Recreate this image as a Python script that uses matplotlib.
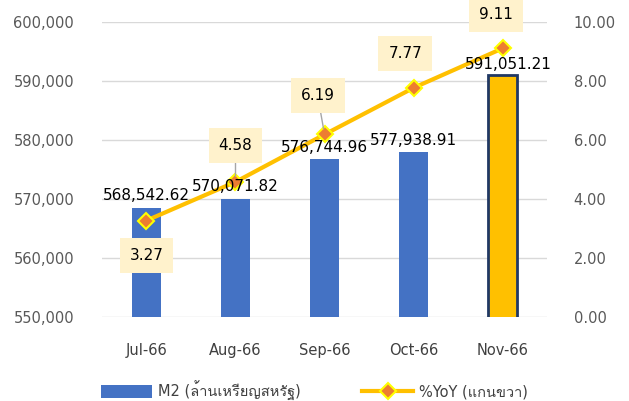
import matplotlib
matplotlib.use("Agg")
import matplotlib.pyplot as plt
from matplotlib import font_manager as fm
from matplotlib.patches import Patch
from matplotlib.lines import Line2D
from matplotlib.ticker import FuncFormatter

# ---- data ----
months = ["Jul-66", "Aug-66", "Sep-66", "Oct-66", "Nov-66"]
m2_values = [568542.62, 570071.82, 576744.96, 577938.91, 591051.21]
yoy_values = [3.27, 4.58, 6.19, 7.77, 9.11]
legend_labels = ["M2 (ล้านเหรียญสหรัฐ)", "%YoY (แกนขวา)"]

# ---- find a font with Thai glyphs ----
thai_font = None
seen = set()
for f in fm.fontManager.ttflist:
    if f.fname in seen:
        continue
    seen.add(f.fname)
    try:
        cmap = fm.get_font(f.fname).get_charmap()
        if 0x0E25 in cmap and 0x0E32 in cmap:
            thai_font = f.name
            break
    except Exception:
        pass

families = ["DejaVu Sans"]
if thai_font:
    families.append(thai_font)
plt.rcParams["font.family"] = families

fig = plt.figure(figsize=(6.29, 4.01), dpi=100)
ax = fig.add_axes([0.162, 0.2095, 0.708, 0.7355])
ax2 = ax.twinx()

x = list(range(len(months)))
colors = ["#4472C4"] * 4 + ["#FFC000"]
edges = ["none"] * 4 + ["#203864"]
lws = [0] * 4 + [2]
ax.bar(x, m2_values, width=0.33, color=colors, edgecolor=edges, linewidth=lws, zorder=2)
ax.set_ylim(550000, 600000)
ax.set_xlim(-0.5, len(months) - 0.5)
ax.set_yticks(range(550000, 600001, 10000))
ax.yaxis.set_major_formatter(FuncFormatter(lambda v, p: f"{v:,.0f}"))
ax.grid(axis="y", color="#D9D9D9", linewidth=1, zorder=0)
ax.set_axisbelow(True)
for s in ax.spines.values():
    s.set_visible(False)
for s in ax2.spines.values():
    s.set_visible(False)
ax.tick_params(axis="y", length=0, pad=20, labelsize=10.5, labelcolor="#595959")
ax.tick_params(axis="x", length=0, pad=19, labelsize=10.5, labelcolor="#404040")
ax.set_xticks(x)
ax.set_xticklabels(months)

ax2.set_ylim(0, 10)
ax2.set_yticks([0, 2, 4, 6, 8, 10])
ax2.yaxis.set_major_formatter(FuncFormatter(lambda v, p: f"{v:.2f}"))
ax2.tick_params(axis="y", length=0, pad=19, labelsize=10.5, labelcolor="#595959")
ax2.plot(x, yoy_values, color="#FFC000", linewidth=3, marker="D", markersize=8,
         markerfacecolor="#ED7D31", markeredgecolor="#FFFF00", markeredgewidth=1.5, zorder=5)

# bar value labels drawn on top of the line
bar_offsets = [(0, 3), (0, 3), (0, 3), (0, 3), (4, 2)]
for xi, v, off in zip(x, m2_values, bar_offsets):
    ax2.annotate(f"{v:,.2f}", (xi, v), xycoords=ax.transData, xytext=off,
                 textcoords="offset points", ha="center", va="bottom",
                 fontsize=11, color="black", zorder=8)

offsets = [(0, -25), (0, 26), (-5, 28), (-6, 25), (-5, 24)]
leaders = [False, True, True, False, False]
for xi, v, off, lead in zip(x, yoy_values, offsets, leaders):
    kw = {}
    if lead:
        kw["arrowprops"] = dict(arrowstyle="-", color="#A6A6A6", lw=1, shrinkA=0, shrinkB=4)
    ax2.annotate(f"{v:.2f}", (xi, v), xytext=off, textcoords="offset points",
                 ha="center", va="center", fontsize=11, color="black", zorder=7,
                 bbox=dict(boxstyle="square,pad=0.65", facecolor="#FFF2CC", edgecolor="none"),
                 **kw)

handles = [Patch(facecolor="#4472C4", edgecolor="none"),
           Line2D([0], [0], color="#FFC000", linewidth=3, marker="D", markersize=8,
                  markerfacecolor="#ED7D31", markeredgecolor="#FFFF00", markeredgewidth=1.5)]
fig.legend(handles, legend_labels, loc="center", bbox_to_anchor=(0.5, 0.025), ncol=2,
           frameon=False, fontsize=10.5, handlelength=3.5, handleheight=1.0,
           handletextpad=0.4, columnspacing=4.2, labelcolor="#404040")

fig.savefig("out.png", dpi=100)
